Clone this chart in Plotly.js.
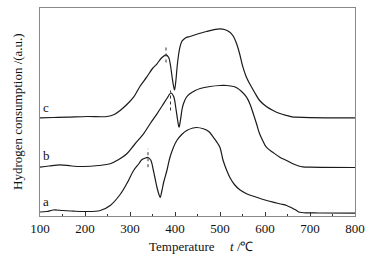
<!DOCTYPE html>
<html>
<head>
<meta charset="utf-8">
<script src="https://cdn.plot.ly/plotly-3.0.1.min.js"></script>
<style>html,body{margin:0;padding:0;background:#fff;}#chart{width:380px;height:257px;}</style>
</head>
<body>
<div id="chart"></div>
<script>
// Temperature (°C) and hydrogen consumption (a.u.)
const tempA = [100,115,130,150,175,200,234,256,278,293,308,320,326,333,340,346,352,360,364,367,371,375,382,390,404,415,426,440,448,463,475,485,495,500,507,515,522,532,544,560,581,600,618,635,648,660,670,677,690,720,800];
const sigA  = [4,4.5,6,5.5,4.8,4.5,5.5,10.5,21.5,32.5,45.5,52.5,56.2,57.8,58.5,56,45.5,28.5,22,18.5,25.5,34,45.5,60.5,75.5,81.5,85.5,88,88.5,87.2,84.5,78.8,72.5,68.5,55.5,45.5,38.5,31.5,26.2,22,18.8,16,13.8,12,10.5,8,5.5,3.8,3.2,3,2.8];

const tempB = [100,120,145,170,197,230,256,275,293,310,330,345,360,372,382,391,397,402,406,409,412,416,419,425,433,445,456,478,500,515,530,537,548,559,567,574,581,588,596,603,618,633,648,662,675,684,700,800];
const sigB  = [48.8,50,51.2,50,49.5,50.5,52.2,56.5,62.2,71.5,82.2,92.5,102.2,110.5,117.5,123,119.5,107.5,95.5,88.8,95.5,107.5,112.5,118.5,122.2,125.5,127.5,129.5,130.5,130.5,129.5,128.2,124.5,118.8,111.5,102.2,92.5,82.2,74.5,68.8,63.5,58.8,55.5,52.2,50,49.2,48.8,48.5];

const tempC = [100,130,160,205,249,265,278,293,308,322,337,350,360,370,380,386,390,394,397,399,402,405,408,411,415,419,425,433,440,450,470,485,500,510,522,530,537,544,551,558,566,577,588,603,618,633,648,660,670,700,800];
const sigC  = [98.2,98.5,98.8,99.5,99.5,101.5,105.5,111.5,118.8,129.5,138.8,147.5,152.2,158,161.2,158.5,150.5,137.5,129.5,126,135.5,150.5,161.5,168.8,174.5,176.5,178.5,179.5,180.5,182,184.5,186.2,187.2,186.5,183.8,179.5,172.2,161.5,148.8,139.5,132.2,123.5,115.5,109.5,105.5,102.5,100.5,99.2,98.8,98.3,98.2];

// peak markers (dotted vertical lines)
const peakT  = [340, 390, 380];
const peakLo = [48.8, 105.5, 153.5];
const peakHi = [67.2, 125.5, 170.5];

const curveNames = ['a','b','c'];
const labelY = [14.5, 60.5, 109];
const xTicks = [100,200,300,400,500,600,700,800];

const lineStyle = {color:'#1a1a1a', width:1.2, shape:'spline', smoothing:1};
const traces = [
  {x:tempA, y:sigA, mode:'lines', line:lineStyle, hoverinfo:'skip'},
  {x:tempB, y:sigB, mode:'lines', line:lineStyle, hoverinfo:'skip'},
  {x:tempC, y:sigC, mode:'lines', line:lineStyle, hoverinfo:'skip'}
];
for (let i=0;i<peakT.length;i++){
  traces.push({x:[peakT[i],peakT[i]], y:[peakLo[i],peakHi[i]], mode:'lines',
    line:{color:'#333', width:1, dash:'dot'}, hoverinfo:'skip'});
}

const font = {family:'"Liberation Serif", "Times New Roman", serif', size:13, color:'#111'};
const annotations = curveNames.map((n,i)=>({
  x:102, y:labelY[i], xref:'x', yref:'y', text:n, showarrow:false,
  xanchor:'left', yanchor:'middle', font:font
}));
annotations.push({x:-0.073, y:0.5, xref:'paper', yref:'paper', text:'Hydrogen consumption /(a.u.)',
  textangle:-90, showarrow:false, xanchor:'center', yanchor:'middle', font:font});
annotations.push({x:0.4514, y:-0.1476, xref:'paper', yref:'paper', text:'Temperature',
  showarrow:false, xanchor:'center', yanchor:'middle', font:font});
annotations.push({x:0.64, y:-0.1476, xref:'paper', yref:'paper', text:'<i>t</i> /℃',
  showarrow:false, xanchor:'center', yanchor:'middle', font:font});

const layout = {
  width:380, height:257,
  margin:{l:40, r:25, t:8, b:41, pad:0},
  paper_bgcolor:'#fff', plot_bgcolor:'#fff',
  showlegend:false,
  font:font,
  xaxis:{range:[100,800], tickvals:xTicks, ticktext:xTicks.map(String),
    ticks:'inside', ticklen:4, tickcolor:'#333', tickwidth:1,
    minor:{dtick:50, ticks:'inside', ticklen:2.5, tickcolor:'#333'},
    showline:true, linecolor:'#888', linewidth:1, mirror:true,
    showgrid:false, zeroline:false, tickfont:font, fixedrange:true},
  yaxis:{range:[0,208], showticklabels:false, ticks:'', showline:true, linecolor:'#888',
    linewidth:1, mirror:true, showgrid:false, zeroline:false, fixedrange:true},
  annotations:annotations
};
Plotly.newPlot('chart', traces, layout, {staticPlot:true, displayModeBar:false});
</script>
</body>
</html>
